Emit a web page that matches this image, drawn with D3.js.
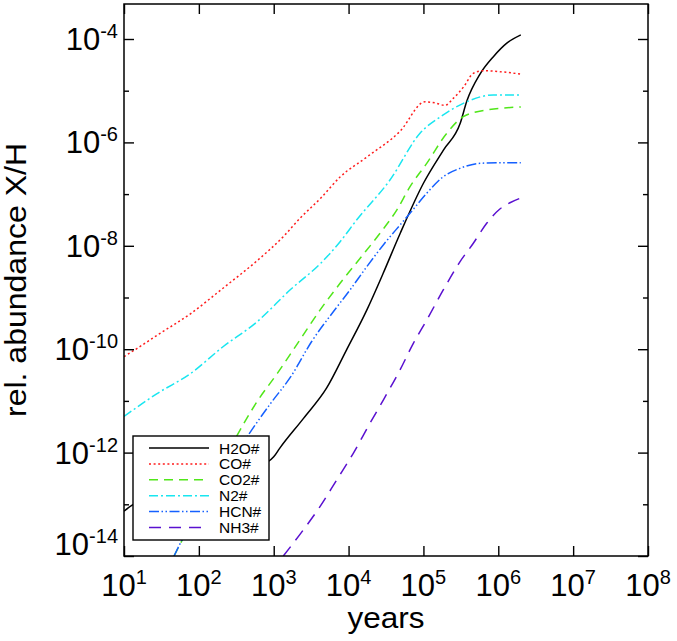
<!DOCTYPE html>
<html>
<head>
<meta charset="utf-8">
<script src="https://cdn.jsdelivr.net/npm/d3@7"></script>
<style>
  body { margin: 0; background: #fff; }
  text { font-family: "Liberation Sans", Arial, sans-serif; fill: #000; }
</style>
</head>
<body>
<div id="chart_div"></div>
<script>
// abundances: [years, X/H]
const h2o = [[10,7.4e-14],[13,9.7e-14],[30,1.65e-13],[100,2.95e-13],[350,4.8e-13],[840,6.7e-13],[1000,8.3e-13],[1200,1.21e-12],[2500,4.6e-12],[5100,1.78e-11],[9400,9.7e-11],[17500,5.7e-10],[29000,2.94e-9],[49000,1.75e-8],[1.0e5,1.62e-7],[1.85e5,7.1e-7],[3.1e5,2.34e-6],[3.8e5,6.3e-6],[5.7e5,2.1e-5],[8.6e5,4.55e-5],[1.3e6,8.3e-5],[2e6,1.2e-4]];
const co = [[10,7.2e-11],[15,1.04e-10],[28,1.88e-10],[78,4.9e-10],[217,1.57e-9],[600,5.15e-9],[1370,1.55e-8],[2240,3.4e-8],[4400,8.8e-8],[7700,2.14e-7],[17500,5.2e-7],[49000,1.66e-6],[1.05e5,6.1e-6],[1.43e5,5.8e-6],[1.94e5,5.2e-6],[2.5e5,7.1e-6],[3.45e5,1.19e-5],[4.64e5,2.17e-5],[6.3e5,2.44e-5],[1.05e6,2.33e-5],[2e6,2.1e-5]];
const co2 = [[46.6,1.0e-14],[60,2.04e-14],[141,2.1e-13],[327,2.2e-12],[600,9.7e-12],[1117,3.4e-11],[2240,1.51e-10],[4150,5.7e-10],[7700,1.88e-9],[14200,5.7e-9],[26300,1.75e-8],[44000,4.9e-8],[66200,1.39e-7],[1.107e5,3.94e-7],[2.05e5,1.5e-6],[3.41e5,3.14e-6],[7e5,4.24e-6],[2e6,4.84e-6]];
const n2 = [[10,5.0e-12],[28,1.4e-11],[78,3.4e-11],[206,1.09e-10],[600,3.4e-10],[1690,1.44e-9],[4250,4.6e-9],[7700,1.2e-8],[12800,3.15e-8],[35700,1.87e-7],[90000,1.5e-6],[1.84e5,3.4e-6],[3.78e5,6.1e-6],[8.6e5,8.3e-6],[2e6,8.3e-6]];
const hcn = [[46.6,1.0e-14],[57.7,1.87e-14],[164,2.1e-13],[468,2.3e-12],[912,9.0e-12],[1690,2.94e-11],[3245,1.44e-10],[6250,5.3e-10],[10450,1.4e-9],[17500,3.94e-9],[29100,1.04e-8],[48600,2.52e-8],[66200,4.26e-8],[1.107e5,1.04e-7],[1.84e5,2.17e-7],[3.07e5,3.15e-7],[5.7e5,3.94e-7],[1.05e6,4.05e-7],[2e6,4.05e-7]];
const nh3 = [[1343,1.0e-14],[2480,3.18e-14],[4150,9.0e-14],[6930,2.95e-13],[11560,9.7e-13],[19300,3.69e-12],[29100,1.04e-11],[48600,3.96e-11],[73300,1.3e-10],[1.107e5,3.67e-10],[1.84e5,1.4e-9],[3.07e5,4.9e-9],[4.64e5,1.12e-8],[7e5,2.72e-8],[1.05e6,5.15e-8],[1.43e6,6.8e-8],[2e6,8.4e-8]];

const speciesNames = ["H2O#", "CO#", "CO2#", "N2#", "HCN#", "NH3#"];
const speciesData = [h2o, co, co2, n2, hcn, nh3];

const xTickExp = [1, 2, 3, 4, 5, 6, 7, 8];
const yLabelExp = [-4, -6, -8, -10, -12, -14];
const yMinorExp = [-5, -7, -9, -11, -13];

// line styles, same order as speciesNames
const lineColor = ["#000000", "#ff1c1c", "#50e619", "#19e6f0", "#1560ff", "#5a10d0"];
const lineDash = [null, "2,2.6", "9,6", "9,3,2,3", "10,2.5,1.5,2.5,1.5,2.5", "12,8"];

const margin = {top: 4, right: 29, bottom: 85, left: 124},
    width = 677 - margin.left - margin.right,
    height = 641 - margin.top - margin.bottom;

const svg = d3.select("#chart_div")
  .append("svg")
    .attr("width", 677)
    .attr("height", 641)
  .append("g")
    .attr("transform", `translate(${margin.left}, ${margin.top})`);

const x = d3.scaleLog().domain([10, 1e8]).range([0, width]);
const y = d3.scaleLog().domain([1e-14, Math.pow(10, -3.323)]).range([height, 0]);

svg.append("defs").append("clipPath").attr("id", "plot_clip")
  .append("rect").attr("width", width).attr("height", height);

// curves
const line = d3.line()
  .x(d => x(d[0]))
  .y(d => y(d[1]))
  .curve(d3.curveMonotoneX);

const curves = svg.append("g").attr("clip-path", "url(#plot_clip)");
speciesData.forEach((data, i) => {
  curves.append("path")
    .datum(data)
    .attr("d", line)
    .attr("fill", "none")
    .attr("stroke", lineColor[i])
    .attr("stroke-width", 1.5)
    .attr("stroke-dasharray", lineDash[i]);
});

// ticks on all four sides, pointing inward
const xTicks = xTickExp.map(e => Math.pow(10, e));
const yMajor = yLabelExp.map(e => Math.pow(10, e));
const yMinor = yMinorExp.map(e => Math.pow(10, e));

function styleAxis(g) {
  g.select(".domain").remove();
  g.selectAll("line").attr("stroke", "#000").attr("stroke-width", 1.4);
}
svg.append("g").attr("transform", `translate(0, ${height})`)
  .call(d3.axisBottom(x).tickValues(xTicks).tickSizeInner(-10).tickSizeOuter(0).tickFormat("")).call(styleAxis);
svg.append("g")
  .call(d3.axisTop(x).tickValues(xTicks).tickSizeInner(-10).tickSizeOuter(0).tickFormat("")).call(styleAxis);
svg.append("g")
  .call(d3.axisLeft(y).tickValues(yMajor).tickSizeInner(-10).tickSizeOuter(0).tickFormat("")).call(styleAxis);
svg.append("g")
  .call(d3.axisLeft(y).tickValues(yMinor).tickSizeInner(-5).tickSizeOuter(0).tickFormat("")).call(styleAxis);
svg.append("g").attr("transform", `translate(${width}, 0)`)
  .call(d3.axisRight(y).tickValues(yMajor).tickSizeInner(-10).tickSizeOuter(0).tickFormat("")).call(styleAxis);
svg.append("g").attr("transform", `translate(${width}, 0)`)
  .call(d3.axisRight(y).tickValues(yMinor).tickSizeInner(-5).tickSizeOuter(0).tickFormat("")).call(styleAxis);

svg.append("rect")
  .attr("width", width).attr("height", height)
  .attr("fill", "none").attr("stroke", "#000").attr("stroke-width", 1.5);

// tick labels 10^n
function powerLabel(sel, exp) {
  sel.append("tspan").text("10");
  sel.append("tspan").attr("dy", -12).style("font-size", "20px").text(exp);
}
xTickExp.forEach(e => {
  svg.append("text")
    .attr("x", x(Math.pow(10, e)))
    .attr("y", height + 40)
    .attr("text-anchor", "middle")
    .style("font-size", "31px")
    .call(powerLabel, e);
});
yLabelExp.forEach(e => {
  const py = e === -14 ? y(Math.pow(10, e)) - 12 : y(Math.pow(10, e));
  svg.append("text")
    .attr("x", -6)
    .attr("y", py + 11)
    .attr("text-anchor", "end")
    .style("font-size", "31px")
    .call(powerLabel, e);
});

// axis titles
svg.append("text")
  .attr("x", width / 2)
  .attr("y", height + 72)
  .attr("text-anchor", "middle")
  .attr("textLength", 77)
  .attr("lengthAdjust", "spacingAndGlyphs")
  .style("font-size", "30px")
  .text("years");

svg.append("text")
  .attr("transform", `translate(${26 - margin.left}, ${height / 2}) rotate(-90)`)
  .attr("text-anchor", "middle")
  .attr("textLength", 274)
  .attr("lengthAdjust", "spacingAndGlyphs")
  .style("font-size", "29px")
  .text("rel. abundance X/H");

// legend
const legend = svg.append("g").attr("transform", `translate(${133 - margin.left}, ${436 - margin.top})`);
legend.append("rect")
  .attr("width", 136).attr("height", 104)
  .attr("fill", "#fff").attr("stroke", "#000").attr("stroke-width", 1.4);
speciesNames.forEach((name, i) => {
  const ly = 12 + i * 15.9;
  legend.append("line")
    .attr("x1", 16).attr("x2", 76)
    .attr("y1", ly).attr("y2", ly)
    .attr("stroke", lineColor[i])
    .attr("stroke-width", 1.5)
    .attr("stroke-dasharray", lineDash[i]);
  legend.append("text")
    .attr("x", 86)
    .attr("y", ly + 5.5)
    .style("font-size", "15.5px")
    .text(name);
});
</script>
</body>
</html>
